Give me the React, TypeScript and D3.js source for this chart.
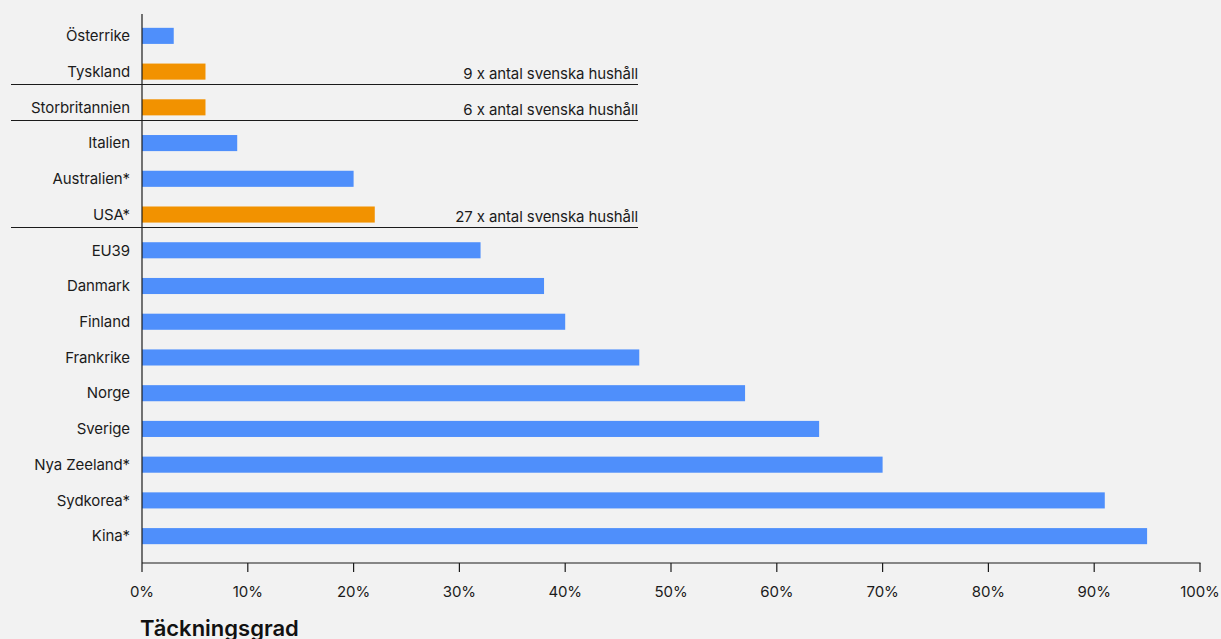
import React from "react";
import * as d3 from "d3";

const categories = ["Österrike","Tyskland","Storbritannien","Italien","Australien*","USA*","EU39","Danmark","Finland","Frankrike","Norge","Sverige","Nya Zeeland*","Sydkorea*","Kina*"];
const values = [3, 6, 6, 9, 20, 22, 32, 38, 40, 47, 57, 64, 70, 91, 95];
const highlighted = ["Tyskland", "Storbritannien", "USA*"];
const annotations = [
  { category: "Tyskland", text: "9 x antal svenska hushåll" },
  { category: "Storbritannien", text: "6 x antal svenska hushåll" },
  { category: "USA*", text: "27 x antal svenska hushåll" },
];
const xTicks = [0, 10, 20, 30, 40, 50, 60, 70, 80, 90, 100];
const axisTitle = "Täckningsgrad";

const W = 1221, H = 639;
const FONT = "Inter, 'Noto Sans', sans-serif";
const BLUE = "#4f8ffb";
const ORANGE = "#f29200";
const INK = "#1b1b1b";

export default function App() {
  const x = d3.scaleLinear().domain([0, 100]).range([142, 1200]);
  const y = d3.scaleBand<string>().domain(categories).range([18, 554]).paddingInner(0.55).paddingOuter(0.275);
  const axisY = 563;
  const bw = y.bandwidth();
  return (
    <svg width={W} height={H} style={{ position: "absolute", left: 0, top: 0, background: "#f2f2f2" }} fontFamily={FONT}>
      <rect x={0} y={0} width={W} height={H} fill="#f2f2f2" />
      {categories.map((c, i) => (
        <g key={c}>
          <rect x={x(0)} y={y(c)!} width={x(values[i]) - x(0)} height={bw} fill={highlighted.includes(c) ? ORANGE : BLUE} />
          <text x={130} y={y(c)! + bw / 2} dy="0.35em" textAnchor="end" fontSize={15} letterSpacing={-0.1} fill={INK}>{c}</text>
        </g>
      ))}
      {annotations.map((a) => {
        const ly = Math.round(y(a.category)! + bw / 2 + 12.5) + 0.5;
        return (
          <g key={a.category}>
            <line x1={11} x2={638} y1={ly} y2={ly} stroke={INK} strokeWidth={1} />
            <text x={638} y={ly - 6} textAnchor="end" fontSize={15} letterSpacing={-0.1} fill={INK}>{a.text}</text>
          </g>
        );
      })}
      <line x1={142} x2={142} y1={14} y2={axisY} stroke={INK} strokeWidth={1.2} />
      <line x1={142} x2={1200.5} y1={axisY} y2={axisY} stroke={INK} strokeWidth={1.2} />
      {xTicks.map((t) => (
        <g key={t}>
          <line x1={x(t)} x2={x(t)} y1={axisY} y2={axisY + 9} stroke={INK} strokeWidth={1.2} />
          <text x={x(t)} y={597} textAnchor="middle" fontSize={15} letterSpacing={-0.1} fill={INK}>{t}%</text>
        </g>
      ))}
      <text x={140} y={636} fontSize={22} fontWeight={600} fill="#111">{axisTitle}</text>
    </svg>
  );
}
